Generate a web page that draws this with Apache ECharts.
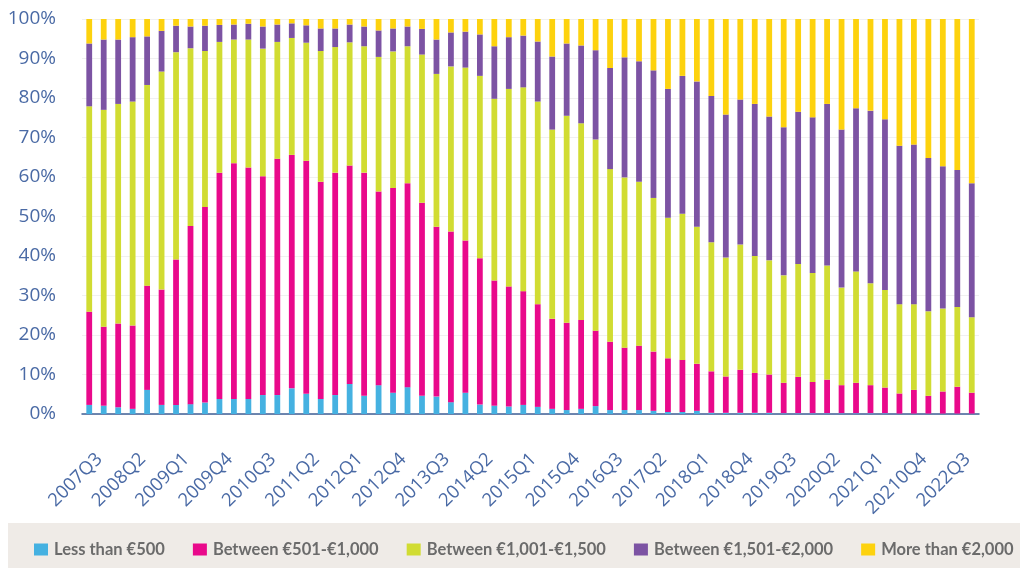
<!DOCTYPE html>
<html>
<head>
<meta charset="utf-8">
<script src="https://cdn.jsdelivr.net/npm/echarts@6/dist/echarts.min.js"></script>
<style>
html,body{margin:0;padding:0;background:#fff;}
#chart{width:1025px;height:569px;}
</style>
</head>
<body>
<div id="chart"></div>
<script>
const categories = [
  "2007Q2","2007Q3","2007Q4","2008Q1","2008Q2","2008Q3","2008Q4","2009Q1","2009Q2","2009Q3","2009Q4",
  "2010Q1","2010Q2","2010Q3","2010Q4","2011Q1","2011Q2","2011Q3","2011Q4","2012Q1","2012Q2","2012Q3","2012Q4",
  "2013Q1","2013Q2","2013Q3","2013Q4","2014Q1","2014Q2","2014Q3","2014Q4","2015Q1","2015Q2","2015Q3","2015Q4",
  "2016Q1","2016Q2","2016Q3","2016Q4","2017Q1","2017Q2","2017Q3","2017Q4","2018Q1","2018Q2","2018Q3","2018Q4",
  "2019Q1","2019Q2","2019Q3","2019Q4","2020Q1","2020Q2","2020Q3","2020Q4","2021Q1","2021Q2","2021Q3","20210Q4",
  "2022Q1","2022Q2","2022Q3"
];
const seriesNames = ["Less than €500","Between €501-€1,000","Between €1,001-€1,500","Between €1,501-€2,000","More than €2,000"];
const lessThan500 = [2.3,2.1,1.7,1.3,6.1,2.3,2.3,2.5,2.9,3.8,3.8,3.8,4.8,4.8,6.5,5.1,3.8,4.8,7.6,4.6,7.3,5.4,6.8,4.6,4.4,3.0,5.4,2.4,2.1,1.9,2.3,1.8,1.3,1.0,1.3,2.0,1.0,1.0,1.0,0.8,0.5,0.5,0.8,0.3,0.3,0.3,0.3,0.3,0.2,0.2,0.2,0.2,0.2,0.2,0.2,0.2,0.1,0.1,0.1,0.1,0.1,0.1];
const between501_1000 = [23.6,20.0,21.2,21.1,26.4,29.2,36.8,45.1,49.5,57.3,59.7,58.6,55.4,59.8,59.1,59.0,55.0,56.3,55.3,56.5,49.0,51.8,51.6,48.9,43.0,43.2,38.5,37.0,31.7,30.4,28.8,26.0,22.8,22.1,22.5,19.1,17.3,15.8,16.3,15.0,13.6,13.2,11.9,10.5,9.2,10.9,10.1,9.7,7.7,9.2,7.9,8.5,7.1,7.7,7.1,6.5,5.1,6.0,4.5,5.6,6.8,5.3];
const between1001_1500 = [52.0,54.9,55.6,56.7,50.8,55.2,52.5,45.0,39.5,33.1,31.3,32.4,32.3,29.6,29.6,29.9,33.1,31.8,31.2,32.0,34.1,34.6,34.7,37.5,38.7,41.8,43.8,46.2,46.0,50.0,51.6,51.3,47.9,52.4,49.8,48.4,43.7,43.1,41.5,38.9,35.6,37.0,34.7,32.7,30.1,31.7,29.6,28.9,27.2,28.6,27.6,28.9,24.7,28.2,25.8,24.7,22.6,21.7,21.4,21.0,20.2,19.1];
const between1501_2000 = [15.9,17.8,16.3,16.3,12.3,10.3,6.7,5.5,6.4,4.3,3.8,4.0,5.6,4.4,3.7,4.4,5.7,4.7,4.5,5.0,6.7,5.8,5.0,6.5,8.7,8.6,9.1,10.5,13.3,13.1,13.1,15.2,18.5,18.3,19.7,22.6,25.6,30.4,30.5,32.3,32.6,34.9,36.8,37.0,36.2,36.7,38.5,36.4,37.5,38.5,39.4,40.9,40.0,41.3,43.7,43.2,40.1,40.4,38.8,36.0,34.7,33.9];
const moreThan2000 = [6.2,5.2,5.2,4.6,4.4,3.0,1.7,1.9,1.7,1.5,1.4,1.2,1.9,1.4,1.1,1.6,2.4,2.4,1.4,1.9,2.9,2.4,1.9,2.5,5.2,3.4,3.2,3.9,6.9,4.6,4.2,5.7,9.5,6.2,6.7,7.9,12.4,9.7,10.7,13.0,17.7,14.4,15.8,19.5,24.2,20.4,21.5,24.7,27.4,23.5,24.9,21.5,28.0,22.6,23.2,25.4,32.1,31.8,35.2,37.3,38.2,41.6];
const yTicks = [0,10,20,30,40,50,60,70,80,90,100];
const colors = ["#45b1e1","#e9098b","#d1dc32","#7c53a3","#fdd20e"];

const allData = [lessThan500, between501_1000, between1001_1500, between1501_2000, moreThan2000];

const chart = echarts.init(document.getElementById('chart'), null, {renderer:'canvas'});
const axisColor = '#4a6aa5';
chart.setOption({
  animation:false,
  backgroundColor:'#ffffff',
  color: colors,
  graphic:[{
    type:'rect', left:8, top:523, shape:{width:1012, height:45}, style:{fill:'#efebe7'}, z:-1
  }],
  grid:{left:82, right:46, top:19, bottom:155},
  legend:{
    top:536, left:29, width:1000,
    itemWidth:14, itemHeight:12, itemGap:28,
    icon:'rect',
    textStyle:{fontFamily:'Lato', fontWeight:'bold', fontSize:16.5, color:'#6b6b6b', padding:[0,0,0,1]},
    data: seriesNames
  },
  xAxis:{
    type:'category', data:categories,
    axisTick:{show:false},
    axisLine:{lineStyle:{color:'#3f5f95', width:1.5}},
    axisLabel:{
      rotate:45, fontSize:18.5, fontFamily:'Open Sans', color:axisColor, margin:38,
      padding:[0,6,0,0],
      interval:function(i){ return i % 3 === 1; }
    }
  },
  yAxis:{
    type:'value', min:0, max:100, interval:10,
    axisLine:{show:false}, axisTick:{show:false},
    splitLine:{lineStyle:{color:'#f0f0f0', width:1}},
    axisLabel:{formatter:function(v){return v+'%';}, fontSize:19, fontFamily:'Open Sans', color:axisColor, margin:26}
  },
  series: seriesNames.map(function(n,k){
    return {name:n, type:'bar', stack:'total', barWidth:'40%', data: allData[k]};
  })
});
</script>
</body>
</html>
